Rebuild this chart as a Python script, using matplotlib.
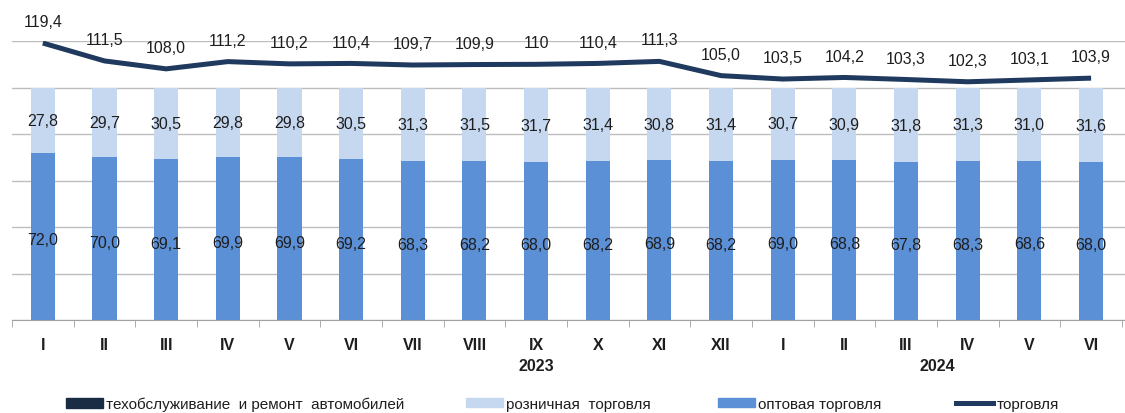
import numpy as np
import matplotlib.pyplot as plt
from matplotlib.patches import Patch
from matplotlib.lines import Line2D

months = ["I", "II", "III", "IV", "V", "VI", "VII", "VIII", "IX", "X", "XI", "XII",
          "I", "II", "III", "IV", "V", "VI"]
wholesale = [72.0, 70.0, 69.1, 69.9, 69.9, 69.2, 68.3, 68.2, 68.0, 68.2, 68.9, 68.2,
             69.0, 68.8, 67.8, 68.3, 68.6, 68.0]
retail = [27.8, 29.7, 30.5, 29.8, 29.8, 30.5, 31.3, 31.5, 31.7, 31.4, 30.8, 31.4,
          30.7, 30.9, 31.8, 31.3, 31.0, 31.6]
service = [0.2, 0.3, 0.4, 0.3, 0.3, 0.3, 0.4, 0.3, 0.3, 0.4, 0.3, 0.4,
           0.3, 0.3, 0.4, 0.4, 0.4, 0.4]
trade = [119.4, 111.5, 108.0, 111.2, 110.2, 110.4, 109.7, 109.9, 110, 110.4, 111.3, 105.0,
         103.5, 104.2, 103.3, 102.3, 103.1, 103.9]
trade_labels = ["119,4", "111,5", "108,0", "111,2", "110,2", "110,4", "109,7", "109,9", "110",
                "110,4", "111,3", "105,0", "103,5", "104,2", "103,3", "102,3", "103,1", "103,9"]
years = [("2023", 8), ("2024", 14.5)]

c_whole = "#5B8FD6"
c_retail = "#C6D8F0"
c_serv = "#1A2B44"
c_line = "#1F3A5E"
plt.rcParams["font.family"] = ["Liberation Sans", "DejaVu Sans"]
txt = "#1E1E1E"

fig = plt.figure(figsize=(11.25, 4.14), dpi=100)
ax = fig.add_axes([12 / 1125, 93 / 414, 1113 / 1125, 279 / 414])
x = np.arange(len(months))
w = 0.39
ax.bar(x, wholesale, w, color=c_whole, zorder=2)
ax.bar(x, retail, w, bottom=wholesale, color=c_retail, zorder=2)
ax.bar(x, service, w, bottom=np.add(wholesale, retail), color=c_serv, zorder=2)

for i in range(len(x)):
    ax.text(x[i], wholesale[i] / 2 - 1.5, f"{wholesale[i]:.1f}".replace(".", ","),
            ha="center", va="center", fontsize=11.5, color=txt, zorder=3)
    ax.text(x[i], wholesale[i] + retail[i] / 2, f"{retail[i]:.1f}".replace(".", ","),
            ha="center", va="center", fontsize=11.5, color=txt, zorder=3)

ax.set_xlim(-0.49, 17.55)
ax.set_ylim(0, 120)
ax.set_yticks(np.arange(0, 121, 20))
ax.yaxis.grid(True, color="#BDBDBD", lw=1)
ax.set_axisbelow(True)
ax.tick_params(axis="y", length=0, labelleft=False)
for s in ["top", "right", "left"]:
    ax.spines[s].set_visible(False)
ax.spines["bottom"].set_color("#A0A0A0")
ax.set_xticks(x)
ax.set_xticklabels(months, fontsize=11.5, fontweight="bold", color=txt)
ax.tick_params(axis="x", length=0, pad=12)
ax.set_xticks(np.arange(-0.5, 18, 1), minor=True)
ax.tick_params(axis="x", which="minor", length=5, color="#A0A0A0")
for yr, pos in years:
    ax.text(pos, -16.5, yr, ha="center", va="top", fontsize=11.5, fontweight="bold",
            color=txt, clip_on=False)

ax2 = ax.twinx()
ax2.set_ylim(-2.9, 120.3)
ax2.plot(x, trade, color=c_line, lw=3.6, solid_capstyle="butt", zorder=4)
ax2.axis("off")
for i in range(len(x)):
    ax2.annotate(trade_labels[i], (x[i], trade[i]), xytext=(0, 10), textcoords="offset points",
                 ha="center", va="bottom", fontsize=11.5, color=txt, annotation_clip=False)

handles = [Patch(color=c_serv), Patch(color=c_retail), Patch(color=c_whole),
           Line2D([], [], color=c_line, lw=3.6)]
labels = ["техобслуживание  и ремонт  автомобилей", "розничная  торговля",
          "оптовая торговля", "торговля"]
starts = [66, 466, 718, 956]
for h, lab, sx in zip(handles, labels, starts):
    lg = fig.legend([h], [lab], loc="center left", bbox_to_anchor=(sx / 1125, 9 / 414),
                    frameon=False, fontsize=11, handlelength=2.4, handleheight=0.6,
                    handletextpad=0.25, borderpad=0, borderaxespad=0)
    for t in lg.get_texts():
        t.set_color(txt)

fig.savefig("out.png", dpi=100)
